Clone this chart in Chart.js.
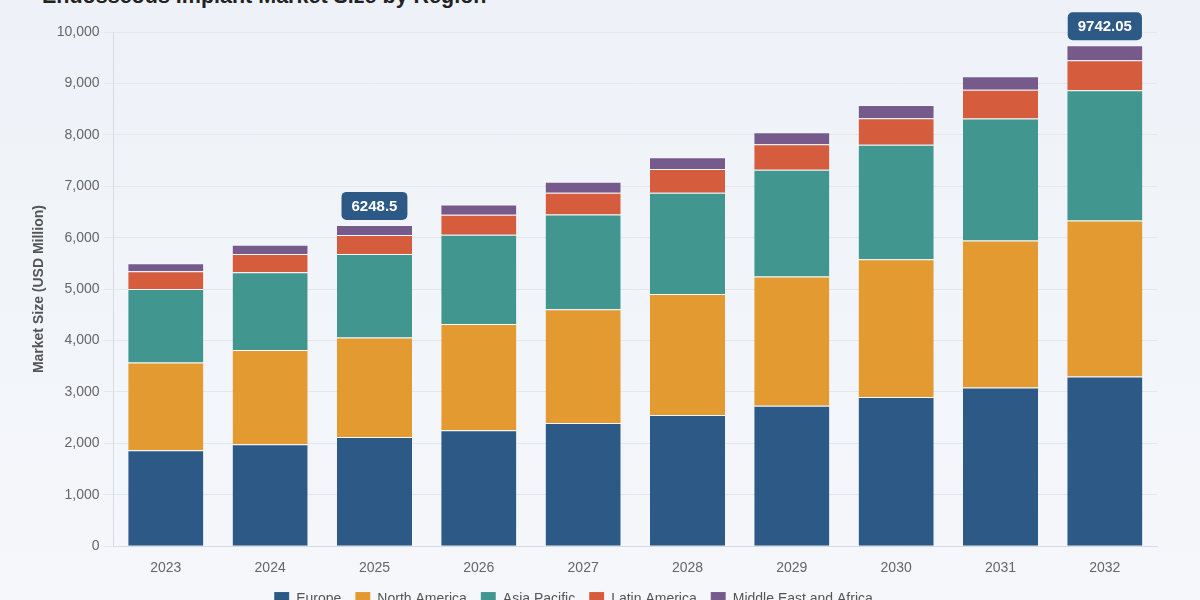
<!DOCTYPE html>
<html>
<head>
<meta charset="utf-8">
<script src="https://cdn.jsdelivr.net/npm/chart.js@4.4.1/dist/chart.umd.min.js"></script>
<style>
  html, body { margin: 0; padding: 0; background: #f2f5f9; }
  #wrap { position: relative; width: 1200px; height: 600px; overflow: hidden;
          background: linear-gradient(#eef2f8, #f5f7fa); }
  #title { position: absolute; left: 42px; top: -17px; margin: 0;
           font: bold 21.5px "Liberation Sans", Arial, sans-serif; line-height: 26px; color: #222; }
  #box { position: absolute; left: 0; top: 0; width: 1200px; height: 630px; }
</style>
</head>
<body>
<div id="wrap">
  <h1 id="title">Endosseous Implant Market Size by Region</h1>
  <div id="box"><canvas id="chart"></canvas></div>
</div>
<script>
// Data
const years = ['2023', '2024', '2025', '2026', '2027', '2028', '2029', '2030', '2031', '2032'];
const europe = [1865, 1982, 2124, 2255, 2397, 2553, 2729, 2904, 3085, 3300];
const northAmerica = [1708, 1832, 1935, 2066, 2209, 2353, 2514, 2676, 2859, 3034];
const asiaPacific = [1430, 1513, 1624.5, 1735, 1845, 1968, 2079, 2229, 2372, 2534];
const latinAmerica = [343, 358, 371, 392, 423, 460, 493, 513, 560, 585];
const middleEastAfrica = [156, 176, 194, 198, 215, 228, 234, 260, 265, 289.05];
const yTicks = [0, 1000, 2000, 3000, 4000, 5000, 6000, 7000, 8000, 9000, 10000];

// Callouts above selected bars
const calloutYears = ['2025', '2032'];
const calloutValues = ['6248.5', '9742.05'];

const FONT = '"Liberation Sans", Arial, sans-serif';

const series = [
    { label: 'Europe', data: europe, color: '#2c5986' },
    { label: 'North America', data: northAmerica, color: '#e39a30' },
    { label: 'Asia Pacific', data: asiaPacific, color: '#41968f' },
    { label: 'Latin America', data: latinAmerica, color: '#d55c3d' },
    { label: 'Middle East and Africa', data: middleEastAfrica, color: '#765a8b' }
];

// Draws the rounded value boxes over the stacks
const calloutPlugin = {
    id: 'callouts',
    afterDatasetsDraw(chart) {
        const ctx = chart.ctx;
        const meta = chart.getDatasetMeta(chart.data.datasets.length - 1);
        ctx.save();
        ctx.font = 'bold 15px ' + FONT;
        calloutYears.forEach((yr, k) => {
            const el = meta.data[years.indexOf(yr)];
            const text = calloutValues[k];
            const w = ctx.measureText(text).width + 20;
            const h = 28;
            const x = el.x - w / 2;
            const y = el.y - 5 - h;
            ctx.fillStyle = '#2c5986';
            ctx.beginPath();
            ctx.roundRect(x, y, w, h, 5);
            ctx.fill();
            ctx.fillStyle = '#ffffff';
            ctx.textAlign = 'center';
            ctx.textBaseline = 'middle';
            ctx.fillText(text, el.x, y + h / 2 + 1);
        });
        ctx.restore();
    }
};

// Nudge legend up and to the left like the reference
const legendShift = {
    id: 'legendShift',
    afterLayout(chart) {
        const lg = chart.legend;
        if (lg) {
            lg.left -= 15;
            lg.right -= 15;
            lg.top -= 13;
            lg.bottom -= 13;
        }
    }
};

const ctx = document.getElementById('chart').getContext('2d');
new Chart(ctx, {
    type: 'bar',
    data: {
        labels: years,
        datasets: series.map(s => ({
            label: s.label,
            data: s.data,
            backgroundColor: s.color,
            borderColor: 'rgba(255, 255, 255, 0.4)',
            borderWidth: { top: 1, bottom: 0, left: 0, right: 0 },
            borderSkipped: false
        }))
    },
    options: {
        responsive: true,
        maintainAspectRatio: false,
        animation: false,
        layout: { padding: { top: 32, left: 20, right: 43, bottom: 0 } },
        scales: {
            x: {
                stacked: true,
                grid: { display: false, drawTicks: false },
                border: { color: '#d6dbe3' },
                ticks: { padding: 14, color: '#666', font: { family: FONT, size: 14 } }
            },
            y: {
                stacked: true,
                min: 0,
                max: 10000,
                afterBuildTicks(scale) {
                    scale.ticks = yTicks.map(v => ({ value: v }));
                },
                grid: { color: '#e3e7ee', tickLength: 10 },
                border: { color: '#d6dbe3' },
                ticks: { padding: 4, color: '#666', font: { family: FONT, size: 14 } },
                title: {
                    display: true,
                    text: 'Market Size (USD Million)',
                    color: '#555',
                    font: { family: FONT, size: 14, weight: 'bold' },
                    padding: { top: 11, bottom: 5 }
                }
            }
        },
        plugins: {
            legend: {
                position: 'bottom',
                labels: {
                    boxWidth: 15,
                    boxHeight: 15,
                    padding: 14,
                    color: '#555',
                    font: { family: FONT, size: 14 }
                }
            },
            tooltip: { enabled: false }
        }
    },
    plugins: [calloutPlugin, legendShift]
});
</script>
</body>
</html>
